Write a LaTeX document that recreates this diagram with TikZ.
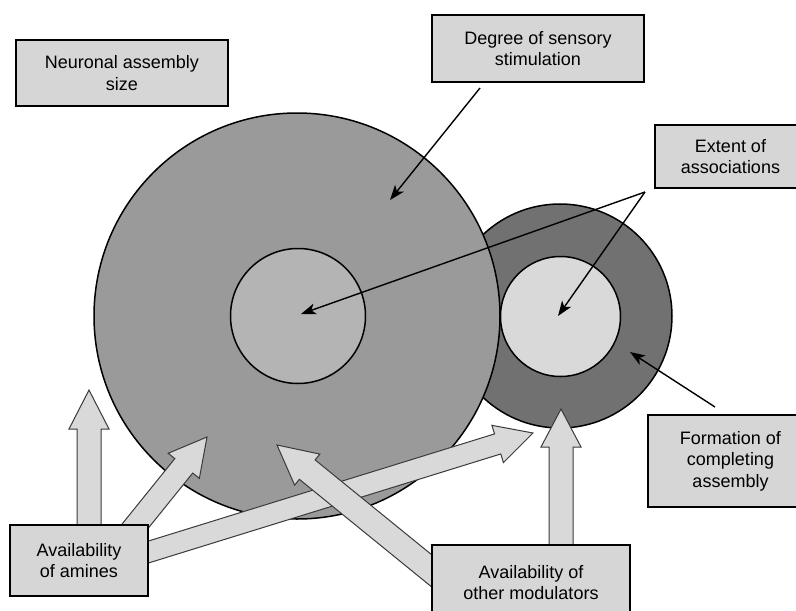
\documentclass[tikz,border=0pt]{standalone}
\usepackage{fontspec}
\setmainfont{Liberation Sans}
\usetikzlibrary{arrows.meta,calc}
\definecolor{boxfill}{HTML}{D6D6D6}
\definecolor{bigc}{HTML}{9A9A9A}
\definecolor{bigin}{HTML}{B4B4B4}
\definecolor{darkc}{HTML}{717171}
\definecolor{smallin}{HTML}{D9D9D9}
\definecolor{arrfill}{HTML}{D9D9D9}
\definecolor{arredge}{HTML}{3A3A3A}
\tikzset{
  labelbox/.style={draw=black, line width=1.8pt, fill=boxfill, align=center, inner sep=0pt,
    font=\fontsize{18}{21.5}\selectfont},
  disc/.style={circle, draw=black, line width=1.5pt, inner sep=0pt},
  blockarr/.style={fill=arrfill, draw=arredge, line width=1pt, line join=miter},
  thinarr/.style={draw=black, line width=1.4pt, -{Stealth[length=15pt,width=11pt,inset=4pt]}},
}
\newcommand\blockarrow[5]{%
  \coordinate (babase) at ($(#2)!#5!(#1)$);
  \filldraw[blockarr] ($(#1)!#3!90:(#2)$) -- ($(babase)!#3!90:(#2)$) -- ($(babase)!#4!90:(#2)$)
    -- (#2) -- ($(babase)!#4!-90:(#2)$) -- ($(babase)!#3!-90:(#2)$) -- ($(#1)!#3!-90:(#2)$) -- cycle;
}
\begin{document}
\begin{tikzpicture}[x=1pt,y=-1pt]
\useasboundingbox (0,0) rectangle (796,611);
% circles
\node[disc, fill=darkc, minimum size=224pt] (dark) at (560,316) {};
\node[disc, fill=bigc, minimum size=406pt] (big) at (297,316) {};
\node[disc, fill=bigin, minimum size=135pt] (bigin) at (298,316) {};
\node[disc, fill=smallin, minimum size=120pt] (smallin) at (560.5,316.5) {};
% block arrow coordinates
\coordinate (a1tail) at (89,535);   \coordinate (a1tip) at (89,390);
\coordinate (a2tail) at (128,535);  \coordinate (a2tip) at (207,437);
\coordinate (a3tail) at (100,567);  \coordinate (a3tip) at (533,433);
\coordinate (a4tail) at (470,602);  \coordinate (a4tip) at (277,445);
\coordinate (a5tail) at (561,555);  \coordinate (a5tip) at (561,409);
\blockarrow{a1tail}{a1tip}{12pt}{20pt}{39pt}
\blockarrow{a2tail}{a2tip}{11.5pt}{20pt}{37pt}
\blockarrow{a5tail}{a5tip}{12pt}{20pt}{38pt}
\blockarrow{a3tail}{a3tip}{10.5pt}{19.5pt}{37pt}
\blockarrow{a4tail}{a4tip}{12.5pt}{20pt}{39pt}
% boxes
\node[labelbox, minimum width=212pt, minimum height=66pt] (size) at (122,73) {Neuronal assembly\\size};
\node[labelbox, minimum width=212pt, minimum height=67pt] (degree) at (538,48.5) {Degree of sensory\\stimulation};
\node[labelbox, minimum width=151pt, minimum height=63pt] (extent) at (730.5,156.5) {Extent of\\associations};
\node[labelbox, minimum width=165pt, minimum height=92pt] (formation) at (730.5,461) {Formation of\\completing\\assembly};
\node[labelbox, minimum width=138pt, minimum height=71pt] (amines) at (79,560.5) {Availability\\of amines};
\node[labelbox, minimum width=198pt, minimum height=75pt, text depth=0pt] (modulators) at (531,582.5) {Availability of\\other modulators};
% thin arrows
\coordinate (degtail) at (480,88);   \coordinate (degtip) at (390,200);
\coordinate (extapex) at (645,192);
\coordinate (exttipA) at (301,314);  \coordinate (exttipB) at (558,316);
\coordinate (formtail) at (715,407); \coordinate (formtip) at (630,352);
\draw[thinarr] (degtail) -- (degtip);
\draw[thinarr] (extapex) -- (exttipA);
\draw[thinarr] (extapex) -- (exttipB);
\draw[thinarr] (formtail) -- (formtip);
\end{tikzpicture}
\end{document}
